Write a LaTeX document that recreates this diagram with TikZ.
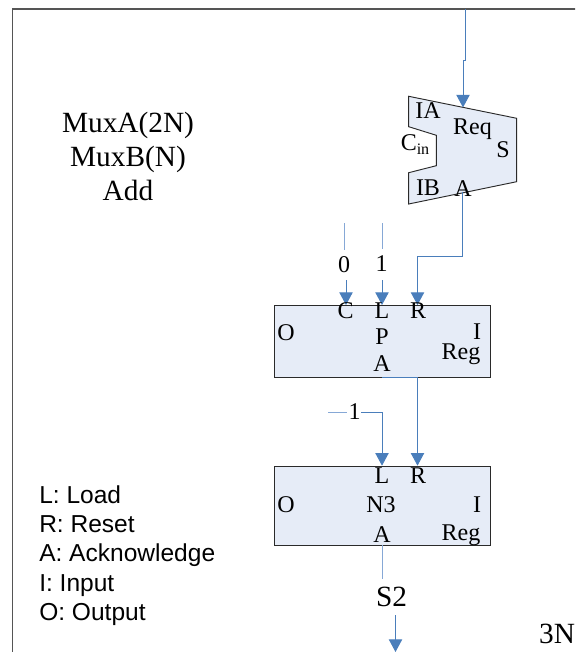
\documentclass[tikz,border=0pt]{standalone}
\usepackage{fontspec}
\setmainfont{Liberation Serif}
\newfontfamily\legendfont{Liberation Sans}
\usetikzlibrary{arrows.meta}
\definecolor{wire}{HTML}{4A7EBB}
\definecolor{wirelight}{HTML}{86A8D6}
\definecolor{fillblue}{HTML}{E6ECF7}
\definecolor{edge}{HTML}{2A2A2A}
\tikzset{
  x=0.75pt,y=-0.75pt,
  regbox/.style={draw=edge,line width=0.7pt,fill=fillblue,rectangle,inner sep=0pt,anchor=north west},
  wireline/.style={draw=wire,line width=0.75pt},
  arrowline/.style={wireline,-{Triangle[length=9.5pt,width=10pt,fill=wire]}},
  lab/.style={font=\fontsize{18pt}{20pt}\selectfont,inner sep=0pt,text=black},
  biglab/.style={font=\fontsize{22pt}{25.5pt}\selectfont,inner sep=0pt,text=black,align=center},
  leg/.style={font=\legendfont\fontsize{18.4pt}{22pt}\selectfont,inner sep=0pt,text=black,align=left,anchor=north west}
}
\begin{document}
\begin{tikzpicture}
\useasboundingbox (0,0) rectangle (575,652);
\begin{scope}
\clip (0,0) rectangle (575,652);
\draw[draw=edge!80,line width=1pt] (12.5,660) -- (12.5,9) -- (580,9);

% Mux
\draw[draw=edge,line width=0.7pt,fill=fillblue] (408.7,96.3) -- (516.7,118.3) -- (516.7,181.7) -- (408.7,204) -- (408.7,172.7) -- (436.3,165.7) -- (436.3,135.3) -- (408.7,126.7) -- cycle;
\coordinate (muxin) at (463,107.5);
\coordinate (muxout) at (462.5,192);

% Registers
\node[regbox,minimum width=162pt,minimum height=54.2pt] (regA) at (274,305) {};
\node[regbox,minimum width=162pt,minimum height=59.2pt] (regB) at (274,465.7) {};

% Free ends
\coordinate (top) at (465.5,9);
\coordinate (topjog) at (465.5,61);
\coordinate (topjogb) at (463,61);
\coordinate (zeroTop) at (344,223);
\coordinate (oneTop) at (382,223);
\coordinate (oneFree) at (328,412);
\coordinate (down) at (395.5,652);

% Inline labels
\node[lab] (zero) at (344,265) {0};
\node[lab] (one) at (381.5,264) {1};
\node[lab] (oneB) at (354.5,412) {1};
\node[font=\fontsize{22pt}{24pt}\selectfont,inner sep=0pt] (stwo) at (391.5,597) {S2};

% Ports on the registers
\coordinate (cA) at (346,305);
\coordinate (lA) at (382,305);
\coordinate (rA) at (417.5,305);
\coordinate (aA) at (382,377.2);
\coordinate (rAout) at (417.5,377.2);
\coordinate (lB) at (382,465.7);
\coordinate (rB) at (417.5,465.7);
\coordinate (aB) at (382,544.6);

% Connectors
\draw[arrowline] (top) -- (topjog) -- (topjogb) -- (muxin);
\draw[arrowline] (muxout) -- (462.5,256.3) -- (417.5,256.3) -- (rA);
\draw[wireline,draw=wirelight] (zeroTop) -- (344,250);
\draw[arrowline] (346,280) -- (cA);
\draw[wireline,draw=wirelight] (oneTop) -- (382,249);
\draw[arrowline] (382,280) -- (lA);
\draw[wireline] (aA) -- (rAout);
\draw[arrowline] (rAout) -- (rB);
\draw[wireline,draw=wirelight] (oneFree) -- (347,412);
\draw[arrowline] (361,412) -- (382,412) -- (lB);
\draw[wireline,draw=wirelight] (aB) -- (382,579);
\draw[arrowline] (395.5,615) -- (down);

% Mux labels
\node[lab] (ia) at (428,111) {IA};
\node[lab] (req) at (472.5,129) {Req};
\node[lab] (s) at (503,149.5) {S};
\node[lab] (cin) at (415,145) {C\raisebox{-3pt}{\fontsize{12pt}{13pt}\selectfont in}};
\node[lab] (ib) at (428,188) {IB};
\node[lab] (a) at (463,189) {A};

% Register A labels
\node[lab] (c1) at (345.5,311) {C};
\node[lab] (l1) at (382,311) {L};
\node[lab] (r1) at (418,311) {R};
\node[lab] (o1) at (286,332.5) {O};
\node[lab] (p1) at (382,337) {P};
\node[lab] (a1) at (382,364) {A};
\node[lab] (i1) at (477,331.5) {I};
\node[lab] (reg1) at (461,354) {Reg};

% Register B labels
\node[lab] (l2) at (382,476) {L};
\node[lab] (r2) at (418,476) {R};
\node[lab] (o2) at (286,505) {O};
\node[lab] (n2) at (381,505) {N3};
\node[lab] (i2) at (477,505) {I};
\node[lab] (a2) at (382,535) {A};
\node[lab] (reg2) at (461,535) {Reg};

\node[biglab] (title) at (128,156) {MuxA(2N)\\MuxB(N)\\Add};
\node[leg] (legend) at (39,485) {L: Load\\R: Reset\\A: Acknowledge\\I: Input\\O: Output};
\node[font=\fontsize{22pt}{24pt}\selectfont,inner sep=0pt] (tn) at (557,634) {3N};
\end{scope}
\end{tikzpicture}
\end{document}
